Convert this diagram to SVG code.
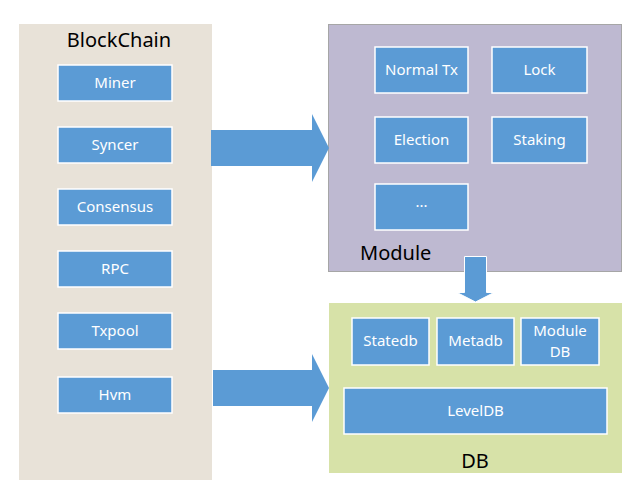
<svg xmlns="http://www.w3.org/2000/svg" width="640" height="498" viewBox="0 0 640 498">
<style>
.box{fill:#5B9BD5;stroke:#FFFFFF;stroke-width:1.5}
.bt{font-family:"Noto Sans","Open Sans",sans-serif;font-size:15px;fill:#FFFFFF;text-anchor:middle}
.title{font-family:"Noto Sans","Open Sans",sans-serif;font-size:20px;fill:#000000}
.arrow{fill:#5B9BD5}
</style>
<rect width="640" height="498" fill="#FFFFFF"/>
<g id="blockchain">
<rect x="19" y="24" width="193" height="456" fill="#E8E2D8"/>
<text class="title" x="119" y="47" text-anchor="middle">BlockChain</text>
</g>
<g id="miner"><rect class="box" x="58" y="65" width="114" height="36"/><text class="bt" x="115" y="88">Miner</text></g>
<g id="syncer"><rect class="box" x="58" y="127" width="114" height="36"/><text class="bt" x="115" y="150">Syncer</text></g>
<g id="consensus"><rect class="box" x="58" y="189" width="114" height="36"/><text class="bt" x="115" y="212">Consensus</text></g>
<g id="rpc"><rect class="box" x="58" y="251" width="114" height="36"/><text class="bt" x="115" y="274">RPC</text></g>
<g id="txpool"><rect class="box" x="58" y="313" width="114" height="36"/><text class="bt" x="115" y="336">Txpool</text></g>
<g id="hvm"><rect class="box" x="58" y="377" width="114" height="36"/><text class="bt" x="115" y="400">Hvm</text></g>
<g id="module">
<rect x="328.5" y="24.5" width="293" height="247" fill="#BEB9D1" stroke="#A6A6A6" stroke-width="1"/>
<text class="title" x="360" y="260">Module</text>
</g>
<g id="normaltx"><rect class="box" x="375" y="47" width="93" height="46"/><text class="bt" x="421.5" y="75">Normal Tx</text></g>
<g id="lock"><rect class="box" x="492" y="47" width="95" height="46"/><text class="bt" x="539.5" y="75">Lock</text></g>
<g id="election"><rect class="box" x="375" y="117" width="93" height="46"/><text class="bt" x="421.5" y="145">Election</text></g>
<g id="staking"><rect class="box" x="492" y="117" width="95" height="46"/><text class="bt" x="539.5" y="145">Staking</text></g>
<g id="more"><rect class="box" x="375" y="184" width="93" height="46"/><text class="bt" x="421.5" y="207">...</text></g>
<g id="db">
<rect x="329" y="303" width="293" height="170" fill="#D7E2A8"/>
<text class="title" x="475" y="468" text-anchor="middle">DB</text>
</g>
<g id="statedb"><rect class="box" x="352" y="318" width="77" height="47"/><text class="bt" x="390.5" y="346">Statedb</text></g>
<g id="metadb"><rect class="box" x="437" y="318" width="77" height="47"/><text class="bt" x="475.5" y="346">Metadb</text></g>
<g id="moduledb"><rect class="box" x="521" y="318" width="78" height="47"/><text class="bt" x="560" y="336">Module</text><text class="bt" x="560" y="357">DB</text></g>
<g id="leveldb"><rect class="box" x="344" y="388" width="263" height="46"/><text class="bt" x="475.5" y="416">LevelDB</text></g>
<g id="connectors">
<polygon class="arrow" points="211,130 312,130 312,114 329,148 312,182 312,166 211,166"/>
<polygon class="arrow" points="213,370 312,370 312,354 329,388 312,422 312,406 213,406"/>
<polygon class="arrow" points="464.5,256.5 486.5,256.5 486.5,292.5 494,292.5 475.5,302 457,292.5 464.5,292.5" stroke="#FFFFFF" stroke-width="1"/>
</g>
</svg>
